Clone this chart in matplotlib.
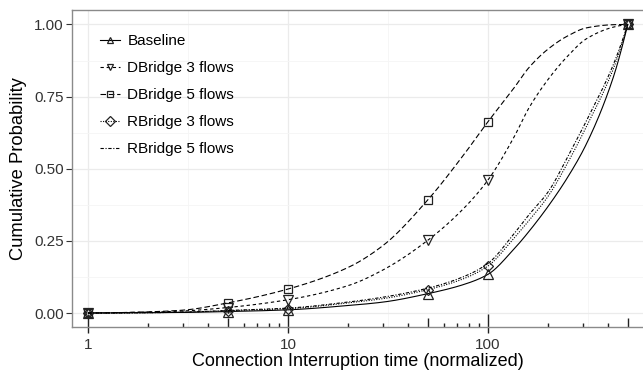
import numpy as np
import matplotlib
matplotlib.use('Agg')
import matplotlib.pyplot as plt
import matplotlib.transforms as mtransforms

plt.rcParams['font.family'] = ['Liberation Sans', 'DejaVu Sans']

# curves (x is the interruption time)
line_x = [1, 2, 3, 5, 10, 20, 30, 50, 75, 100, 135, 160, 200, 250, 310, 420, 500]
baseline = [0.0, 0.001, 0.002, 0.005, 0.011, 0.026, 0.038, 0.067, 0.098, 0.134,
            0.222, 0.282, 0.37, 0.47, 0.585, 0.81, 1.0]
dbridge3 = [0.0, 0.003, 0.007, 0.019, 0.046, 0.095, 0.150, 0.252, 0.36, 0.461,
            0.61, 0.71, 0.81, 0.89, 0.95, 0.99, 1.0]
dbridge5 = [0.0, 0.004, 0.010, 0.035, 0.083, 0.158, 0.235, 0.392, 0.545, 0.663,
            0.78, 0.85, 0.915, 0.96, 0.988, 0.999, 1.0]
rbridge3 = [0.0, 0.001, 0.003, 0.008, 0.015, 0.035, 0.05, 0.081, 0.118, 0.163,
            0.26, 0.32, 0.405, 0.52, 0.645, 0.84, 1.0]
rbridge5 = [0.0, 0.001, 0.003, 0.009, 0.017, 0.038, 0.055, 0.086, 0.125, 0.172,
            0.275, 0.34, 0.42, 0.54, 0.665, 0.855, 1.0]

# x positions that carry a marker
marker_x = [1, 5, 10, 50, 100, 500]

series_names = ['Baseline', 'DBridge 3 flows', 'DBridge 5 flows',
                'RBridge 3 flows', 'RBridge 5 flows']
y_ticks = [0.0, 0.25, 0.5, 0.75, 1.0]
y_ticklabels = ['0.00', '0.25', '0.50', '0.75', '1.00']
x_ticks = [1, 10, 100]
x_ticklabels = ['1', '10', '100']


def pchip(xk, yk, xs):
    # monotone cubic (Fritsch-Carlson), only used to draw a smooth line
    xk = np.asarray(xk, float)
    yk = np.asarray(yk, float)
    h = np.diff(xk)
    d = np.diff(yk) / h
    n = len(xk)
    m = np.zeros(n)
    for k in range(1, n - 1):
        if d[k - 1] * d[k] <= 0:
            m[k] = 0
        else:
            w1 = 2 * h[k] + h[k - 1]
            w2 = h[k] + 2 * h[k - 1]
            m[k] = (w1 + w2) / (w1 / d[k - 1] + w2 / d[k])

    def end(h0, h1, d0, d1):
        v = ((2 * h0 + h1) * d0 - h0 * d1) / (h0 + h1)
        if np.sign(v) != np.sign(d0):
            v = 0
        elif np.sign(d0) != np.sign(d1) and abs(v) > abs(3 * d0):
            v = 3 * d0
        return v
    m[0] = end(h[0], h[1], d[0], d[1])
    m[-1] = end(h[-1], h[-2], d[-1], d[-2])
    idx = np.clip(np.searchsorted(xk, xs) - 1, 0, n - 2)
    t = (xs - xk[idx]) / h[idx]
    h00 = 2 * t**3 - 3 * t**2 + 1
    h10 = t**3 - 2 * t**2 + t
    h01 = -2 * t**3 + 3 * t**2
    h11 = t**3 - t**2
    return (h00 * yk[idx] + h10 * h[idx] * m[idx]
            + h01 * yk[idx + 1] + h11 * h[idx] * m[idx + 1])


fig = plt.figure(figsize=(6.43, 3.76), dpi=100)
ax = fig.add_axes([72 / 643, 49 / 376, 1 - 72 / 643, 317 / 376])

styles = [
    dict(ls='-', marker='^', ms=6.5),
    dict(ls=(0, (3, 2.5)), marker='v', ms=6.5),
    dict(ls=(0, (5, 2.5)), marker='s', ms=5.5),
    dict(ls=(0, (1, 1.3)), marker='D', ms=5.0),
    dict(ls=(0, (3, 1.5, 1, 1.5)), marker=None, ms=5.0),
]
all_series = [baseline, dbridge3, dbridge5, rbridge3, rbridge5]

lx = np.log10(line_x)
xs = np.linspace(lx[0], lx[-1], 600)
mk_idx = [line_x.index(v) for v in marker_x]
for name, ys, st in zip(series_names, all_series, styles):
    yy = pchip(lx, ys, xs)
    ax.plot(10 ** xs, yy, color='black', lw=0.8, ls=st['ls'])
    if st['marker'] is not None:
        ax.plot(marker_x, [ys[i] for i in mk_idx], ls='none',
                marker=st['marker'], mfc='none', mec='#222222', mew=0.9,
                ms=st['ms'])
    # legend entry
    ax.plot([], [], color='black', lw=0.8, ls=st['ls'], marker=st['marker'],
            mfc='none', mec='#222222', mew=0.9, ms=5, label=name)

ax.set_xscale('log')
ax.set_xlim(10 ** -0.08, 10 ** 2.775)
ax.set_ylim(-0.0485, 1.05)

# grid
for v in x_ticks:
    ax.axvline(v, color='#ebebeb', lw=0.9, zorder=0)
for v in [10 ** 0.5, 10 ** 1.5, 10 ** 2.5]:
    ax.axvline(v, color='#f5f5f5', lw=0.6, zorder=0)
for v in y_ticks:
    ax.axhline(v, color='#ebebeb', lw=0.9, zorder=0)
for v in [0.125, 0.375, 0.625, 0.875]:
    ax.axhline(v, color='#f5f5f5', lw=0.6, zorder=0)

ax.set_xticks(x_ticks)
ax.set_xticklabels(x_ticklabels)
ax.xaxis.set_minor_locator(matplotlib.ticker.NullLocator())
ax.set_yticks(y_ticks)
ax.set_yticklabels(y_ticklabels)
ax.tick_params(axis='y', length=4, width=0.8, color='#333333',
               labelsize=11, labelcolor='#333333', pad=2)
ax.tick_params(axis='x', length=0, labelsize=11, labelcolor='#333333', pad=8)

# log ticks along the bottom
trans = mtransforms.blended_transform_factory(ax.transData, ax.transAxes)
ph = 317.0
long_t = [1, 10, 100]
mid_t = [5, 50, 500]
short_t = [m * 10 ** e for e in range(3) for m in (2, 3, 4, 6, 7, 8, 9)]
ax.vlines(long_t, -6 / ph, 13 / ph, transform=trans, color='#222222',
          lw=1.0, clip_on=False)
ax.vlines(mid_t, 0, 9 / ph, transform=trans, color='#222222', lw=1.0)
ax.vlines(short_t, 0, 4.5 / ph, transform=trans, color='#222222', lw=1.0)

for side in ['left', 'top', 'bottom']:
    ax.spines[side].set_color('#8a8a8a')
    ax.spines[side].set_linewidth(1.0)
ax.spines['right'].set_visible(False)

ax.set_xlabel('Connection Interruption time (normalized)', fontsize=13,
              labelpad=1)
ax.set_ylabel('Cumulative Probability', fontsize=13.2, labelpad=5)

ax.legend(loc='upper left', bbox_to_anchor=(0.03, 0.958), frameon=False,
          fontsize=11, handlelength=1.3, handletextpad=0.5,
          labelspacing=0.85, borderaxespad=0.3)

fig.savefig('out.png', dpi=100)
